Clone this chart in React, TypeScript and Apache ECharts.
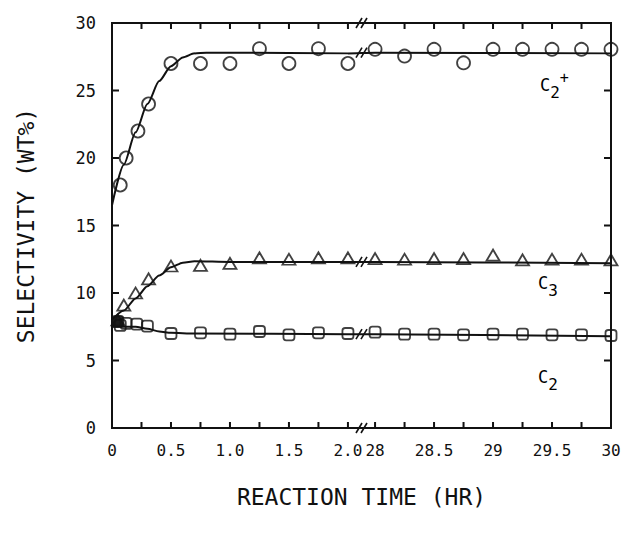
import React, { useEffect, useRef } from "react";
import * as echarts from "echarts";

// ---- axis break mapping (left segment 0..2.1 h, right segment 28..30 h)
const LEFT_END = 2.0;
const RIGHT_START = 28;
const GAP = 0.23;
const toD = (t: number) => (t <= 2.2 ? t : t - RIGHT_START + LEFT_END + GAP);
const BREAK_T = 2.115;

// ---- tick labels
const xLabelTimes = [0, 0.5, 1, 1.5, 2, 28, 28.5, 29, 29.5, 30];
const xLabelTexts = ["0", "0.5", "1.0", "1.5", "2.0", "28", "28.5", "29", "29.5", "30"];
const xTickTimes = [0, 0.25, 0.5, 0.75, 1, 1.25, 1.5, 1.75, 2, 28, 28.25, 28.5, 28.75, 29, 29.25, 29.5, 29.75, 30];
const yTickValues = [0, 5, 10, 15, 20, 25, 30];

// ---- C2+ (circles)
const c2pTimes = [0.07, 0.12, 0.22, 0.31, 0.5, 0.75, 1.0, 1.25, 1.5, 1.75, 2.0, 28, 28.25, 28.5, 28.75, 29, 29.25, 29.5, 29.75, 30];
const c2pValues = [18, 20, 22, 24, 27, 27, 27, 28.1, 27, 28.1, 27, 28.05, 27.55, 28.05, 27.05, 28.05, 28.05, 28.05, 28.05, 28.05];
const c2pFitTimes = [0, 0.1, 0.2, 0.3, 0.4, 0.5, 0.6, 0.7, 0.8, 1.0, 2.0, 28, 30];
const c2pFitValues = [16.5, 19.5, 21.9, 24.0, 25.7, 26.8, 27.45, 27.75, 27.8, 27.8, 27.75, 27.8, 27.75];

// ---- C3 (triangles)
const c3Times = [0.05, 0.1, 0.2, 0.31, 0.5, 0.75, 1.0, 1.25, 1.5, 1.75, 2.0, 28, 28.25, 28.5, 28.75, 29, 29.25, 29.5, 29.75, 30];
const c3Values = [8.0, 9.1, 10.0, 11.05, 12.0, 12.05, 12.2, 12.6, 12.5, 12.6, 12.6, 12.55, 12.5, 12.55, 12.55, 12.8, 12.45, 12.5, 12.5, 12.45];
const c3FitTimes = [0, 0.1, 0.2, 0.3, 0.4, 0.5, 0.6, 0.7, 1.0, 2.0, 28, 30];
const c3FitValues = [8.0, 8.7, 9.6, 10.5, 11.3, 11.9, 12.25, 12.35, 12.3, 12.3, 12.3, 12.2];

// ---- C2 (squares)
const c2Times = [0.05, 0.07, 0.12, 0.21, 0.3, 0.5, 0.75, 1.0, 1.25, 1.5, 1.75, 2.0, 28, 28.25, 28.5, 28.75, 29, 29.25, 29.5, 29.75, 30];
const c2Values = [7.9, 7.6, 7.75, 7.7, 7.55, 7.0, 7.05, 6.95, 7.15, 6.9, 7.05, 7.0, 7.1, 6.95, 6.95, 6.9, 6.95, 6.95, 6.9, 6.9, 6.85];
const c2FitTimes = [0, 0.2, 0.3, 0.4, 0.5, 0.7, 2.0, 28, 30];
const c2FitValues = [7.5, 7.5, 7.35, 7.15, 7.05, 7.0, 6.95, 6.95, 6.8];

const INK = "#111";
const FONT = "DejaVu Sans Mono";

const pts = (ts: number[], vs: number[]) => ts.map((t, i) => [toD(t), vs[i]]);

export default function App() {
  const ref = useRef<HTMLDivElement>(null);
  useEffect(() => {
    if (!ref.current) return;
    const chart = echarts.init(ref.current, undefined, { renderer: "svg" });
    const xMax = toD(30);
    const labelValues = xLabelTimes.map(toD);
    const tickValues = xTickTimes.map(toD);
    const fmtX = (v: number) => {
      const i = labelValues.findIndex((d) => Math.abs(d - v) < 1e-6);
      return i >= 0 ? xLabelTexts[i] : "";
    };
    const frameLine = { show: true, onZero: false, lineStyle: { color: INK, width: 2 } };
    const lineSeries = (ts: number[], vs: number[]) => ({
      type: "line",
      data: pts(ts, vs),
      symbol: "none",
      smooth: 0.25,
      smoothMonotone: "x",
      lineStyle: { color: INK, width: 2 },
      z: 2,
    });
    const scatterSeries = (ts: number[], vs: number[], symbol: string, size: any, filledFirst: boolean) => ({
      type: "scatter",
      symbol,
      symbolSize: size,
      data: pts(ts, vs).map((p, i) =>
        filledFirst && i === 0 ? { value: p, itemStyle: { color: INK } } : { value: p }
      ),
      itemStyle: { color: "rgba(255,255,255,0)", borderColor: INK, borderWidth: 1.8 },
      z: 3,
    });

    chart.setOption({
      animation: false,
      grid: { left: 112, right: 13, top: 23, bottom: 107 },
      xAxis: [
        {
          type: "value",
          position: "bottom",
          min: 0,
          max: xMax,
          axisLine: frameLine,
          splitLine: { show: false },
          axisTick: { show: false },
          axisLabel: { show: true, customValues: labelValues, formatter: fmtX, color: INK, fontFamily: FONT, fontSize: 16, margin: 14 },
          name: "REACTION TIME (HR)",
          nameLocation: "middle",
          nameGap: 57,
          nameTextStyle: { color: INK, fontFamily: FONT, fontSize: 23 },
        },
        {
          type: "value",
          position: "top",
          min: 0,
          max: xMax,
          axisLine: frameLine,
          splitLine: { show: false },
          axisTick: { show: false },
          axisLabel: { show: false },
        },
      ],
      yAxis: [
        {
          type: "value",
          position: "left",
          min: 0,
          max: 30,
          interval: 5,
          axisLine: frameLine,
          splitLine: { show: false },
          axisTick: { show: false },
          axisLabel: { color: INK, fontFamily: FONT, fontSize: 17, margin: 16 },
          name: "SELECTIVITY (WT%)",
          nameLocation: "middle",
          nameGap: 75,
          nameTextStyle: { color: INK, fontFamily: FONT, fontSize: 23 },
        },
        {
          type: "value",
          position: "right",
          min: 0,
          max: 30,
          interval: 5,
          axisLine: frameLine,
          splitLine: { show: false },
          axisTick: { show: false },
          axisLabel: { show: false },
        },
      ],
      series: [
        lineSeries(c2pFitTimes, c2pFitValues),
        lineSeries(c3FitTimes, c3FitValues),
        lineSeries(c2FitTimes, c2FitValues),
        scatterSeries(c2pTimes, c2pValues, "circle", 13, false),
        scatterSeries(c3Times, c3Values, "triangle", [13, 11], true),
        scatterSeries(c2Times, c2Values, "roundRect", 11, true),
      ],
    });

    const graphics: any[] = [];
    const px = (x: number, y: number) => chart.convertToPixel({ gridIndex: 0 }, [x, y]) as number[];

    // inward tick "combs" (one polyline per side), positioned by the axes' scales
    const comb = (points: number[][]) =>
      graphics.push({ type: "polyline", shape: { points }, style: { stroke: INK, lineWidth: 2, fill: "none" }, z: 10 });
    const bottom: number[][] = [];
    const top: number[][] = [];
    tickValues.forEach((d) => {
      const b = px(d, 0);
      const t = px(d, 30);
      bottom.push([b[0], b[1]], [b[0], b[1] - 6], [b[0], b[1]]);
      top.push([t[0], t[1]], [t[0], t[1] + 6], [t[0], t[1]]);
    });
    const left: number[][] = [];
    const right: number[][] = [];
    yTickValues.forEach((v) => {
      const l = px(0, v);
      const r = px(xMax, v);
      left.push([l[0], l[1]], [l[0] + 7, l[1]], [l[0], l[1]]);
      right.push([r[0], r[1]], [r[0] - 7, r[1]], [r[0], r[1]]);
    });
    comb(bottom);
    comb(top);
    comb(left);
    comb(right);

    // break marks
    const bx = toD(BREAK_T);
    const breakYs = [30, 27.8, 12.3, 6.95, 0];
    breakYs.forEach((yv) => {
      const p = px(bx, yv);
      [-2.5, 2.5].forEach((dx) =>
        graphics.push({
          type: "line",
          shape: { x1: p[0] + dx - 3, y1: p[1] + 5, x2: p[0] + dx + 3, y2: p[1] - 5 },
          style: { stroke: INK, lineWidth: 1.6 },
          z: 10,
        })
      );
    });

    const rich = {
      b: { fontFamily: FONT, fontSize: 17, color: INK, lineHeight: 30, verticalAlign: "middle" },
      s: { fontFamily: FONT, fontSize: 16, color: INK, lineHeight: 30, verticalAlign: "bottom" },
      p: { fontFamily: FONT, fontSize: 15, color: INK, lineHeight: 30, verticalAlign: "top" },
    };
    graphics.push(
      { type: "text", x: 540, y: 70, z: 10, style: { text: "{b|C}{s|2}{p|+}", rich } },
      { type: "text", x: 538, y: 268, z: 10, style: { text: "{b|C}{s|3}", rich } },
      { type: "text", x: 538, y: 362, z: 10, style: { text: "{b|C}{s|2}", rich } }
    );
    chart.setOption({ graphic: graphics });

    return () => chart.dispose();
  }, []);
  return <div ref={ref} style={{ position: "absolute", left: 0, top: 0, width: 624, height: 535 }} />;
}
